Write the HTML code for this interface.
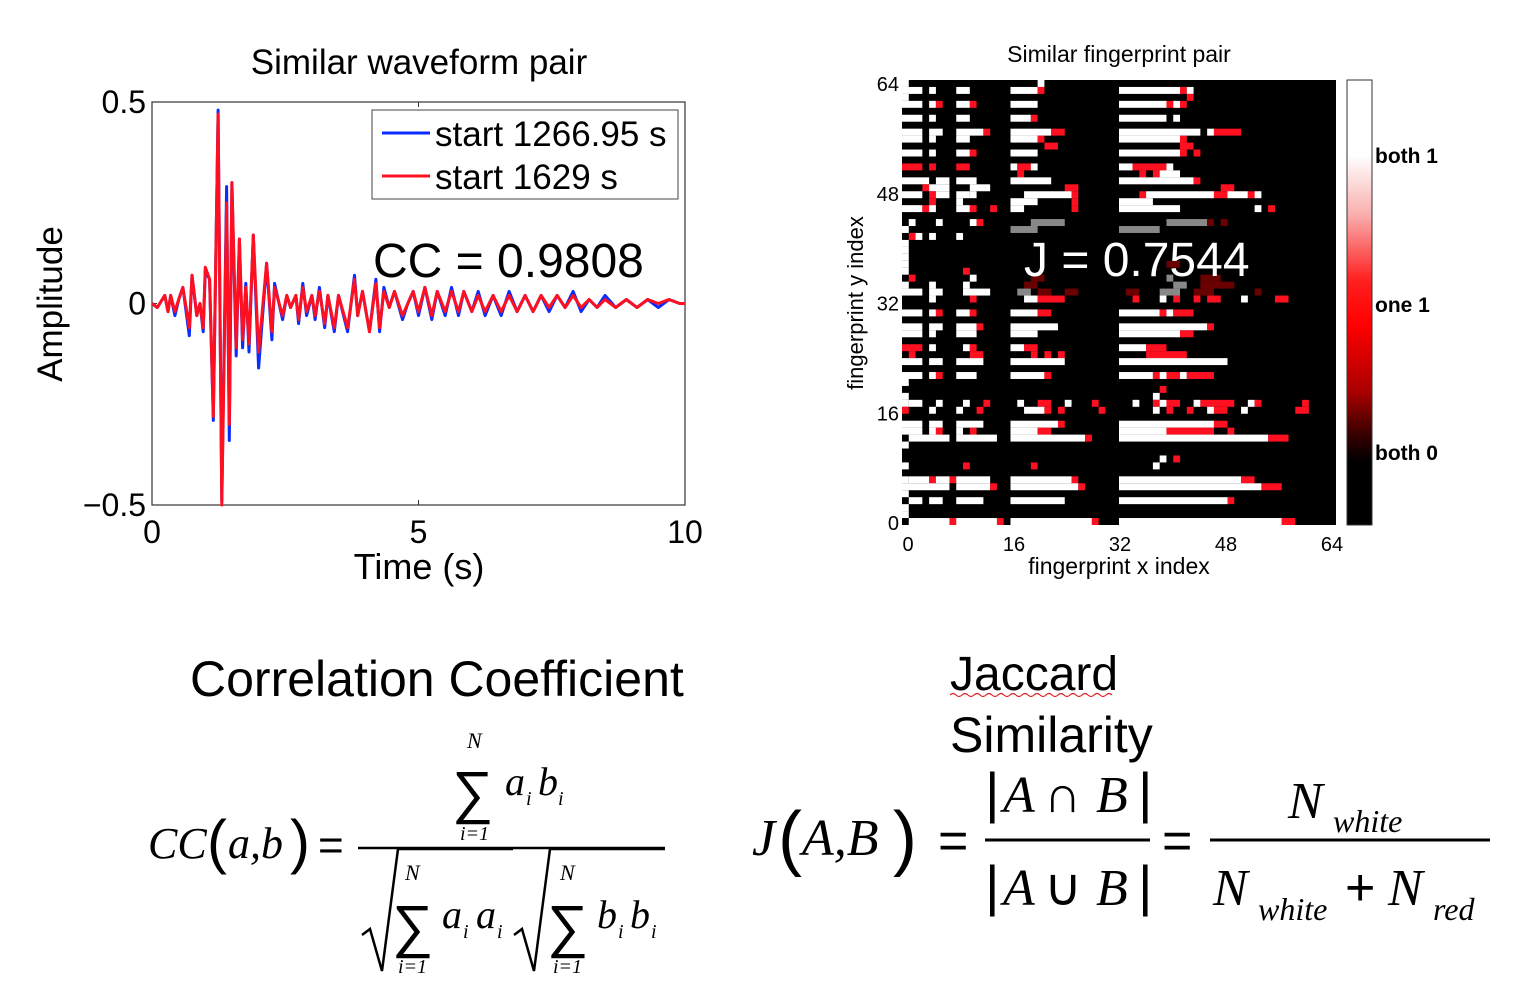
<!DOCTYPE html>
<html><head><meta charset="utf-8"><style>
html,body{margin:0;padding:0;background:#fff;width:1520px;height:996px;overflow:hidden}
svg text{font-family:"Liberation Sans",sans-serif}
.serif{font-family:"Liberation Serif",serif;font-style:italic}
</style></head><body>
<svg id="root" width="1520" height="996" viewBox="0 0 1520 996" xmlns="http://www.w3.org/2000/svg">
<!-- Waveform chart -->
<g id="wave">
<text x="419" y="74" font-size="35" text-anchor="middle">Similar waveform pair</text>
<rect x="152" y="102" width="533" height="403" fill="#fff" stroke="#333" stroke-width="1.2"/>
<g id="waveTicks"></g>
<g id="waveLines"></g>
<text x="419" y="579" font-size="36" text-anchor="middle">Time (s)</text>
<text transform="translate(62,304) rotate(-90)" font-size="35" text-anchor="middle">Amplitude</text>
<g>
<rect x="372" y="110" width="306" height="89" fill="#fff" stroke="#444" stroke-width="1"/>
<line x1="382" y1="133" x2="430" y2="133" stroke="#0a2cff" stroke-width="3"/>
<text x="435" y="146" font-size="35">start 1266.95 s</text>
<line x1="382" y1="176" x2="430" y2="176" stroke="#ff1020" stroke-width="3"/>
<text x="435" y="189" font-size="35">start 1629 s</text>
</g>
<text x="373" y="277" font-size="48">CC = 0.9808</text>
</g>

<!-- Fingerprint heatmap -->
<g id="fp">
<text x="1119" y="62" font-size="23" text-anchor="middle">Similar fingerprint pair</text>
<rect x="902" y="80" width="434" height="445" fill="#000"/>
<g id="cells"></g>
<g id="fpTicks"></g>
<text x="1119" y="574" font-size="23" text-anchor="middle">fingerprint x index</text>
<text transform="translate(863,303) rotate(-90)" font-size="22" text-anchor="middle">fingerprint y index</text>
<text x="1024" y="276" font-size="48" fill="#fff">J = 0.7544</text>
<defs><linearGradient id="cb" x1="0" y1="0" x2="0" y2="1">
<stop offset="0" stop-color="#fff"/><stop offset="0.17" stop-color="#fff"/><stop offset="0.3" stop-color="#f9b0b0"/><stop offset="0.45" stop-color="#ff2020"/><stop offset="0.55" stop-color="#f00"/><stop offset="0.7" stop-color="#a00"/><stop offset="0.8" stop-color="#300"/><stop offset="0.86" stop-color="#000"/><stop offset="1" stop-color="#000"/>
</linearGradient></defs>
<rect x="1347" y="80" width="25" height="445" fill="url(#cb)" stroke="#333" stroke-width="1"/>
<text x="1375" y="163" font-size="21" font-weight="bold">both 1</text>
<text x="1375" y="312" font-size="21" font-weight="bold">one 1</text>
<text x="1375" y="460" font-size="21" font-weight="bold">both 0</text>
</g>

<!-- Text headings -->
<text x="190" y="696" font-size="50">Correlation Coefficient</text>
<text x="950" y="690" font-size="48">Jaccard</text>
<path d="M950 695 q3 -3 6 0 t6 0 t6 0 t6 0 t6 0 t6 0 t6 0 t6 0 t6 0 t6 0 t6 0 t6 0 t6 0 t6 0 t6 0 t6 0 t6 0 t6 0 t6 0 t6 0 t6 0 t6 0 t6 0 t6 0 t6 0 t6 0 t6 0" fill="none" stroke="#e02020" stroke-width="1.2"/>
<text x="950" y="752" font-size="50">Similarity</text>

<!-- CC formula -->
<g class="serif" fill="#000">
<text x="148" y="858" font-size="44" class="serif">CC</text>
<text x="207" y="862" font-size="60" font-style="normal" font-family="Liberation Serif">(</text>
<text x="228" y="858" font-size="44" class="serif">a,b</text>
<text x="290" y="862" font-size="60" font-style="normal" font-family="Liberation Serif">)</text>
<text x="318" y="860" font-size="44" font-style="normal" font-family="Liberation Serif">=</text>
<text x="467" y="748" font-size="22" class="serif">N</text>
<text x="452" y="812" font-size="58" font-style="normal" font-family="Liberation Serif">∑</text>
<text x="460" y="840" font-size="20" class="serif">i=1</text>
<text x="505" y="795" font-size="40" class="serif">a</text><text x="526" y="805" font-size="20" class="serif">i</text>
<text x="538" y="795" font-size="40" class="serif">b</text><text x="558" y="805" font-size="20" class="serif">i</text>
<line x1="358" y1="848" x2="665" y2="848" stroke="#000" stroke-width="2.5"/>
<path d="M362 935 l8 -6 l12 42 l16 -122 h115" fill="none" stroke="#000" stroke-width="2.5"/>
<text x="405" y="880" font-size="22" class="serif">N</text>
<text x="392" y="946" font-size="58" font-style="normal" font-family="Liberation Serif">∑</text>
<text x="398" y="973" font-size="20" class="serif">i=1</text>
<text x="442" y="928" font-size="40" class="serif">a</text><text x="463" y="938" font-size="20" class="serif">i</text>
<text x="476" y="928" font-size="40" class="serif">a</text><text x="497" y="938" font-size="20" class="serif">i</text>
<path d="M514 935 l8 -6 l12 42 l16 -122 h115" fill="none" stroke="#000" stroke-width="2.5"/>
<text x="560" y="880" font-size="22" class="serif">N</text>
<text x="547" y="946" font-size="58" font-style="normal" font-family="Liberation Serif">∑</text>
<text x="553" y="973" font-size="20" class="serif">i=1</text>
<text x="597" y="928" font-size="40" class="serif">b</text><text x="618" y="938" font-size="20" class="serif">i</text>
<text x="630" y="928" font-size="40" class="serif">b</text><text x="651" y="938" font-size="20" class="serif">i</text>
</g>

<!-- Jaccard formula -->
<g>
<text x="752" y="855" font-size="52" class="serif">J</text>
<text x="778" y="862" font-size="72" font-family="Liberation Serif">(</text>
<text x="802" y="855" font-size="52" class="serif">A,B</text>
<text x="893" y="862" font-size="72" font-family="Liberation Serif">)</text>
<text x="938" y="858" font-size="52" font-family="Liberation Serif">=</text>
<text x="985" y="812" font-size="56" font-family="Liberation Serif">|</text>
<text x="1003" y="812" font-size="52" class="serif">A</text>
<text x="1044" y="812" font-size="52" font-family="Liberation Serif">∩</text>
<text x="1096" y="812" font-size="52" class="serif">B</text>
<text x="1138" y="812" font-size="56" font-family="Liberation Serif">|</text>
<line x1="985" y1="840" x2="1150" y2="840" stroke="#000" stroke-width="3"/>
<text x="985" y="905" font-size="56" font-family="Liberation Serif">|</text>
<text x="1003" y="905" font-size="52" class="serif">A</text>
<text x="1044" y="905" font-size="52" font-family="Liberation Serif">∪</text>
<text x="1096" y="905" font-size="52" class="serif">B</text>
<text x="1138" y="905" font-size="56" font-family="Liberation Serif">|</text>
<text x="1162" y="858" font-size="52" font-family="Liberation Serif">=</text>
<text x="1288" y="818" font-size="52" class="serif">N</text>
<text x="1333" y="832" font-size="32" class="serif">white</text>
<line x1="1210" y1="840" x2="1490" y2="840" stroke="#000" stroke-width="3"/>
<text x="1213" y="905" font-size="52" class="serif">N</text>
<text x="1258" y="920" font-size="32" class="serif">white</text>
<text x="1345" y="905" font-size="52" font-family="Liberation Serif">+</text>
<text x="1388" y="905" font-size="52" class="serif">N</text>
<text x="1433" y="920" font-size="32" class="serif">red</text>
</g>
</svg>
<script>
// ---- waveform data ----
const times = [0,0.1,0.24,0.3,0.35,0.43,0.5,0.58,0.7,0.75,0.84,0.9,0.96,1.0,1.08,1.15,1.24,1.31,1.4,1.45,1.5,1.58,1.64,1.7,1.76,1.82,1.9,2.0,2.15,2.25,2.3,2.45,2.53,2.6,2.7,2.75,2.83,2.9,3.0,3.06,3.14,3.24,3.3,3.42,3.5,3.67,3.8,3.86,3.95,4.08,4.2,4.27,4.35,4.45,4.55,4.7,4.8,4.9,5.0,5.12,5.25,5.35,5.5,5.62,5.75,5.85,6.0,6.12,6.25,6.4,6.55,6.7,6.85,7.0,7.15,7.3,7.45,7.6,7.75,7.9,8.05,8.2,8.35,8.5,8.7,8.9,9.1,9.3,9.5,9.7,9.9,10.0];
const blueVals = [0,-0.01,0.02,-0.02,0.02,-0.03,0.01,0.04,-0.08,0.07,-0.03,0.0,-0.07,0.08,0.06,-0.29,0.48,-0.49,0.29,-0.34,0.3,-0.13,0.16,-0.11,0.05,-0.12,0.17,-0.16,0.1,-0.09,0.05,-0.04,0.02,-0.01,0.02,-0.05,0.05,-0.03,0.02,-0.04,0.04,-0.06,0.02,-0.07,0.02,-0.07,0.07,-0.03,0.03,-0.07,0.06,-0.07,0.04,-0.01,0.03,-0.04,0.0,0.03,-0.03,0.04,-0.04,0.03,-0.03,0.04,-0.03,0.03,-0.02,0.03,-0.03,0.02,-0.03,0.03,-0.02,0.02,-0.02,0.02,-0.02,0.02,-0.01,0.03,-0.02,0.01,-0.01,0.02,-0.01,0.01,-0.01,0.01,-0.01,0.01,0.0,0.0];
const redVals = [0,-0.01,0.02,-0.02,0.02,-0.02,0.01,0.04,-0.06,0.07,-0.03,0.0,-0.06,0.09,0.06,-0.28,0.47,-0.5,0.25,-0.3,0.3,-0.11,0.16,-0.09,0.04,-0.1,0.17,-0.12,0.1,-0.07,0.04,-0.03,0.02,-0.01,0.02,-0.04,0.04,-0.02,0.02,-0.03,0.03,-0.05,0.02,-0.06,0.02,-0.06,0.06,-0.03,0.03,-0.07,0.05,-0.06,0.03,-0.01,0.03,-0.03,0.0,0.03,-0.02,0.04,-0.03,0.03,-0.02,0.03,-0.02,0.03,-0.02,0.02,-0.02,0.02,-0.02,0.02,-0.02,0.02,-0.02,0.02,-0.01,0.02,-0.01,0.02,-0.01,0.01,-0.01,0.01,-0.01,0.01,-0.01,0.01,0.0,0.01,0.0,0.0];
const xTicks = [0,5,10];
const yTicks = [0.5,0,-0.5];
const yTickLabels = ["0.5","0","\u22120.5"];
const fpTicks = [0,16,32,48,64];

// ---- fingerprint heatmap runs: [rowFromTop, colStart, colEnd, kind] ----
const fpRuns = [
[0,0,0,'W'],[0,20,20,'W'],
[1,0,2,'W'],[1,4,4,'W'],[1,8,9,'W'],[1,16,19,'W'],[1,20,20,'R'],[1,32,40,'W'],[1,41,41,'R'],[1,42,42,'W'],
[2,0,0,'W'],[2,42,42,'R'],
[3,0,2,'W'],[3,4,4,'W'],[3,5,5,'R'],[3,8,9,'W'],[3,10,10,'R'],[3,16,19,'W'],[3,32,38,'W'],[3,39,39,'R'],[3,40,40,'W'],[3,41,41,'R'],
[5,0,2,'W'],[5,4,4,'W'],[5,8,9,'W'],[5,16,18,'W'],[5,19,19,'R'],[5,32,38,'W'],[5,40,40,'W'],
[7,0,2,'W'],[7,4,5,'W'],[7,8,11,'W'],[7,12,12,'R'],[7,16,21,'W'],[7,22,23,'R'],[7,32,43,'W'],[7,45,45,'W'],[7,46,49,'R'],
[8,0,2,'W'],[8,4,4,'W'],[8,8,9,'W'],[8,16,19,'W'],[8,20,20,'R'],[8,32,40,'W'],[8,41,41,'R'],
[9,21,22,'R'],[9,41,42,'R'],
[10,0,2,'W'],[10,4,4,'W'],[10,8,9,'W'],[10,10,10,'R'],[10,16,19,'W'],[10,32,40,'W'],[10,41,41,'R'],[10,43,43,'R'],
[12,0,2,'R'],[12,4,4,'R'],[12,8,9,'R'],[12,16,16,'W'],[12,17,18,'R'],[12,19,19,'W'],[12,32,33,'W'],[12,34,38,'R'],[12,39,39,'W'],
[13,17,17,'R'],[13,35,35,'R'],[13,37,37,'R'],[13,38,40,'W'],
[14,0,3,'W'],[14,5,6,'W'],[14,8,10,'W'],[14,16,21,'W'],[14,32,42,'W'],[14,43,43,'R'],
[15,3,3,'R'],[15,4,6,'W'],[15,10,12,'W'],[15,24,25,'R'],[15,47,48,'R'],
[16,0,2,'W'],[16,4,4,'R'],[16,5,6,'W'],[16,8,9,'W'],[16,10,10,'W'],[16,18,24,'W'],[16,25,25,'R'],[16,35,35,'R'],[16,36,45,'W'],[16,46,47,'R'],[16,48,50,'W'],[16,51,51,'R'],[16,52,52,'W'],
[17,4,4,'R'],[17,8,8,'W'],[17,16,19,'W'],[17,25,25,'R'],[17,32,36,'W'],
[18,0,2,'W'],[18,3,3,'R'],[18,4,4,'W'],[18,8,9,'W'],[18,10,10,'R'],[18,13,13,'R'],[18,16,17,'W'],[18,25,25,'R'],[18,32,40,'W'],[18,52,52,'W'],[18,54,54,'R'],
[20,1,1,'W'],[20,5,5,'W'],[20,10,10,'W'],[20,11,11,'R'],[20,19,23,'G'],[20,39,44,'G'],[20,45,45,'D'],[20,47,47,'D'],
[21,0,0,'W'],[21,16,19,'G'],[21,32,37,'G'],
[22,1,1,'R'],[22,2,2,'W'],[22,4,4,'W'],[22,8,8,'W'],
[23,0,0,'W'],[24,0,0,'W'],[25,0,0,'W'],[26,0,0,'W'],[26,39,40,'D'],
[27,9,9,'R'],[27,0,0,'W'],[28,1,1,'R'],[28,10,10,'W'],[28,19,20,'D'],[28,39,39,'G'],[28,44,46,'D'],
[29,0,0,'W'],[29,4,4,'W'],[29,9,9,'W'],[29,18,19,'D'],[29,40,41,'G'],[29,44,48,'D'],
[30,0,2,'W'],[30,4,5,'W'],[30,9,12,'W'],[30,17,18,'G'],[30,20,21,'D'],[30,24,25,'D'],[30,33,34,'D'],[30,38,40,'G'],[30,43,45,'D'],[30,52,52,'D'],
[31,4,4,'W'],[31,10,10,'R'],[31,18,19,'W'],[31,20,23,'R'],[31,34,34,'R'],[31,38,38,'W'],[31,40,40,'R'],[31,43,43,'R'],[31,45,46,'R'],[31,50,50,'W'],[31,55,56,'R'],
[33,0,2,'W'],[33,4,4,'W'],[33,5,5,'R'],[33,8,9,'W'],[33,10,10,'R'],[33,16,19,'W'],[33,20,21,'R'],[33,32,37,'W'],[33,38,38,'R'],[33,39,39,'W'],[33,40,42,'R'],
[35,0,2,'W'],[35,4,5,'W'],[35,8,10,'W'],[35,11,11,'R'],[35,16,22,'W'],[35,32,44,'W'],[35,45,45,'R'],
[36,0,2,'W'],[36,4,4,'W'],[36,8,10,'W'],[36,16,19,'W'],[36,32,40,'W'],[36,41,42,'R'],
[38,0,2,'R'],[38,4,4,'W'],[38,9,9,'W'],[38,10,10,'R'],[38,16,17,'W'],[38,18,19,'R'],[38,32,35,'W'],[38,36,38,'R'],
[39,1,1,'R'],[39,10,11,'R'],[39,19,19,'R'],[39,21,21,'R'],[39,23,23,'R'],[39,36,41,'R'],
[40,0,2,'W'],[40,4,5,'W'],[40,8,11,'W'],[40,16,23,'W'],[40,32,47,'W'],
[42,0,2,'W'],[42,4,4,'W'],[42,5,5,'R'],[42,8,10,'W'],[42,16,20,'W'],[42,21,21,'R'],[42,32,36,'W'],[42,37,37,'R'],[42,38,38,'W'],[42,39,40,'R'],[42,41,41,'W'],[42,42,45,'R'],
[43,0,0,'W'],[44,38,38,'R'],[45,0,0,'W'],[45,37,37,'W'],
[46,0,0,'W'],[46,1,2,'W'],[46,5,5,'W'],[46,9,9,'W'],[46,12,12,'R'],[46,17,17,'W'],[46,20,21,'R'],[46,24,24,'W'],[46,28,28,'R'],[46,34,34,'W'],[46,37,37,'R'],[46,38,38,'W'],[46,39,40,'R'],[46,43,43,'W'],[46,44,48,'R'],[46,51,51,'W'],[46,52,52,'R'],[46,59,59,'R'],
[47,0,0,'R'],[47,4,4,'W'],[47,8,8,'W'],[47,11,11,'R'],[47,18,20,'W'],[47,21,21,'R'],[47,23,23,'R'],[47,29,29,'R'],[47,37,37,'W'],[47,39,39,'R'],[47,42,42,'R'],[47,45,45,'W'],[47,46,47,'R'],[47,50,50,'W'],[47,58,59,'R'],
[49,0,2,'W'],[49,4,5,'W'],[49,8,11,'W'],[49,16,22,'W'],[49,23,23,'R'],[49,32,45,'W'],[49,46,47,'R'],
[50,0,2,'W'],[50,4,4,'W'],[50,5,5,'R'],[50,8,8,'W'],[50,10,10,'R'],[50,16,19,'W'],[50,20,21,'R'],[50,32,38,'W'],[50,39,45,'R'],[50,48,48,'R'],
[51,1,6,'W'],[51,8,13,'W'],[51,16,26,'W'],[51,27,27,'R'],[51,32,53,'W'],[51,54,56,'R'],
[52,0,0,'W'],[54,38,38,'W'],[54,40,40,'R'],[55,0,0,'W'],[55,9,9,'R'],[55,19,19,'R'],[55,37,37,'W'],
[57,0,0,'W'],[57,1,3,'W'],[57,4,4,'R'],[57,5,6,'W'],[57,7,7,'R'],[57,8,12,'W'],[57,16,24,'W'],[57,25,25,'R'],[57,32,49,'W'],[57,50,51,'R'],
[58,0,6,'W'],[58,8,12,'W'],[58,13,13,'R'],[58,16,25,'W'],[58,26,26,'R'],[58,32,52,'W'],[58,53,55,'R'],
[59,0,0,'W'],
[60,1,2,'W'],[60,4,5,'W'],[60,8,11,'W'],[60,16,23,'W'],[60,32,47,'W'],[60,48,48,'R'],
[61,0,0,'W'],[62,0,0,'W'],
[63,1,6,'W'],[63,7,7,'R'],[63,8,13,'W'],[63,14,14,'R'],[63,16,27,'W'],[63,28,28,'R'],[63,32,55,'W'],[63,56,57,'R']
];

const NS = "http://www.w3.org/2000/svg";
function mk(tag, attrs, parent){ const e=document.createElementNS(NS,tag); for(const k in attrs) e.setAttribute(k,attrs[k]); parent.appendChild(e); return e; }

// waveform axes
const X0=152, X1=685, Y0=102, Y1=505;
const xs = t => X0 + (t-0)/(10-0)*(X1-X0);
const ys = v => Y1 - (v-(-0.5))/(1.0)*(Y1-Y0);
const wt = document.getElementById('waveTicks');
xTicks.forEach(t=>{
  const l=mk('line',{x1:xs(t),x2:xs(t),y1:Y1,y2:Y1-5,stroke:'#333'},wt);
  
  
  mk('line',{x1:xs(t),x2:xs(t),y1:Y0,y2:Y0+5,stroke:'#333'},wt);
  const tx=mk('text',{x:xs(t),y:543,'font-size':32,'text-anchor':'middle'},wt);
  tx.textContent=String(t);
  
  
});
yTicks.forEach((v,i)=>{
  const l=mk('line',{x1:X0,x2:X0+5,y1:ys(v),y2:ys(v),stroke:'#333'},wt);
  
  
  mk('line',{x1:X1,x2:X1-5,y1:ys(v),y2:ys(v),stroke:'#333'},wt);
  const tx=mk('text',{x:146,y:ys(v)+11,'font-size':32,'text-anchor':'end'},wt);
  tx.textContent=yTickLabels[i];
  
  
});
const wl=document.getElementById('waveLines');
function series(vals,color,name){
  const d=vals.map((v,i)=>(i?'L':'M')+xs(times[i]).toFixed(1)+' '+ys(v).toFixed(1)).join(' ');
  const p=mk('path',{d:d,fill:'none',stroke:color,'stroke-width':3,'stroke-linejoin':'round'},wl);
  
  
}
series(blueVals,'#0a2cff','series-blue-1266');
series(redVals,'#ff1020','series-red-1629');

// heatmap
const HX0=902, HX1=1336, HY0=80, HY1=525;
const cw=(HX1-HX0)/64, ch=(HY1-HY0)/64;
const colors={W:'#fff',R:'#ff1020',G:'#888',D:'#6a0000'};
const cells=document.getElementById('cells');
fpRuns.forEach(r=>{
  const rc=mk('rect',{x:HX0+r[1]*cw,y:HY0+r[0]*ch,width:(r[2]-r[1]+1)*cw,height:ch,fill:colors[r[3]]},cells);
  
  
});
const ft=document.getElementById('fpTicks');
fpTicks.forEach(t=>{
  const x=HX0+6+t/64*(HX1-HX0-10);
  const tx=mk('text',{x:x,y:551,'font-size':20,'text-anchor':'middle'},ft);
  tx.textContent=String(t);
  
  
  const y=HY1-2-t/64*(HY1-HY0-6);
  const ty=mk('text',{x:899,y:y+7,'font-size':20,'text-anchor':'end'},ft);
  ty.textContent=String(t);
  
  
});
</script>
</body></html>
